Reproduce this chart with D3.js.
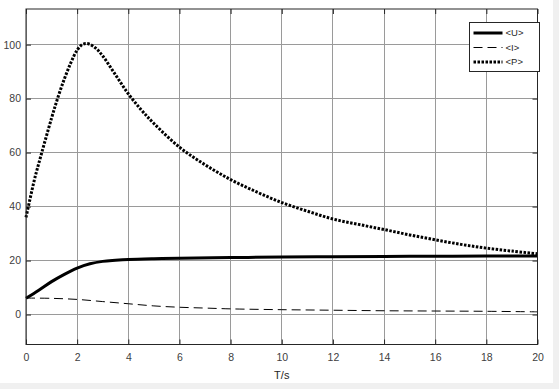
<!DOCTYPE html>
<html>
<head>
<meta charset="utf-8">
<script src="https://cdn.jsdelivr.net/npm/d3@7"></script>
<style>
  body { margin: 0; background: #f0f0f0; }
  #chart { position: absolute; left: 0; top: 0; }
</style>
</head>
<body>
<div id="chart"></div>
<script>
// values
const tU = [0, 0.5, 1, 1.5, 2, 2.5, 3, 3.5, 4, 5, 6, 8, 10, 12, 14, 16, 18, 20];
const valU = [6, 9, 12.2, 14.9, 17.2, 18.8, 19.7, 20.1, 20.4, 20.7, 20.9, 21.1, 21.3, 21.4, 21.5, 21.6, 21.7, 21.7];

const tI = [0, 1, 2, 3, 4, 5, 6, 7, 8, 10, 12, 14, 16, 18, 20];
const valI = [6.1, 6, 5.6, 4.8, 4.0, 3.2, 2.7, 2.4, 2.1, 1.8, 1.6, 1.4, 1.3, 1.2, 1.0];

const tP = [0, 0.33, 0.5, 1, 1.25, 1.5, 1.75, 2, 2.2, 2.35, 2.5, 2.75, 3, 3.5, 4, 4.5, 5, 6, 7, 8, 9, 10, 11, 12, 13, 14, 15, 16, 17, 18, 19, 20];
const valP = [36, 50, 56, 72.8, 80.5, 87.3, 93.2, 98, 100, 100.4, 100.1, 98.5, 95.8, 88.8, 81.8, 75.9, 70.8, 62, 55.5, 50, 45.5, 41.5, 38.3, 35.4, 33.4, 31.5, 29.5, 27.7, 26, 24.6, 23.5, 22.5];

const xTicks = [0, 2, 4, 6, 8, 10, 12, 14, 16, 18, 20];
const yTicks = [0, 20, 40, 60, 80, 100];

const series = [
    { name: "<U>", t: tU, v: valU, width: 3, dash: null },
    { name: "<I>", t: tI, v: valI, width: 1, dash: "9,5" },
    { name: "<P>", t: tP, v: valP, width: 3, dash: "2.5,1.5" }
];

const margin = { top: 9, right: 15.5, bottom: 44.5, left: 26 };
const width = 553 - margin.left - margin.right;
const height = 389 - margin.top - margin.bottom;

const root = d3.select("#chart").append("svg")
    .attr("width", 559)
    .attr("height", 389);

root.append("rect")
    .attr("width", 553)
    .attr("height", 383)
    .attr("fill", "#ffffff");

const svg = root.append("g")
    .attr("transform", `translate(${margin.left},${margin.top})`);

const x = d3.scaleLinear().domain([0, 20]).range([0, width]);
const y = d3.scaleLinear().domain([-11.1, 113.2]).range([height, 0]);

// grid
svg.append("g")
    .selectAll("line")
    .data(xTicks)
    .enter()
    .append("line")
    .attr("x1", d => x(d)).attr("x2", d => x(d))
    .attr("y1", 0).attr("y2", height)
    .attr("stroke", "#9a9a9a")
    .attr("stroke-width", 1)
    .attr("shape-rendering", "crispEdges");

svg.append("g")
    .selectAll("line")
    .data(yTicks)
    .enter()
    .append("line")
    .attr("x1", 0).attr("x2", width)
    .attr("y1", d => y(d)).attr("y2", d => y(d))
    .attr("stroke", "#9a9a9a")
    .attr("stroke-width", 1)
    .attr("shape-rendering", "crispEdges");

// axes with inward ticks
function styleAxis(g) {
    g.select(".domain").remove();
    g.selectAll(".tick line").attr("stroke", "#262626");
    g.selectAll("text")
        .attr("fill", "#404040")
        .style("font-family", "Liberation Sans, Arial, sans-serif")
        .style("font-size", "10.5px");
}

svg.append("g")
    .attr("transform", `translate(0,${height})`)
    .call(d3.axisBottom(x).tickValues(xTicks).tickSize(-5).tickPadding(9))
    .call(styleAxis);

svg.append("g")
    .call(d3.axisTop(x).tickValues(xTicks).tickSize(-5).tickFormat(""))
    .call(styleAxis);

svg.append("g")
    .call(d3.axisLeft(y).tickValues(yTicks).tickSize(-5).tickPadding(5))
    .call(styleAxis);

svg.append("g")
    .attr("transform", `translate(${width},0)`)
    .call(d3.axisRight(y).tickValues(yTicks).tickSize(-5).tickFormat(""))
    .call(styleAxis);

// lines
const line = d3.line()
    .x(d => x(d[0]))
    .y(d => y(d[1]))
    .curve(d3.curveCatmullRom.alpha(0.5));

svg.selectAll(".series")
    .data(series)
    .enter()
    .append("path")
    .attr("class", "series")
    .attr("d", s => line(s.t.map((t, i) => [t, s.v[i]])))
    .attr("fill", "none")
    .attr("stroke", "#000")
    .attr("stroke-width", s => s.width)
    .attr("stroke-dasharray", s => s.dash);

// box
svg.append("rect")
    .attr("width", width)
    .attr("height", height)
    .attr("fill", "none")
    .attr("stroke", "#262626")
    .attr("stroke-width", 1);

// x label
svg.append("text")
    .attr("x", width / 2)
    .attr("y", height + 34)
    .attr("text-anchor", "middle")
    .attr("fill", "#262626")
    .style("font-family", "Liberation Sans, Arial, sans-serif")
    .style("font-size", "11px")
    .text("T/s");

// legend
const legend = root.append("g").attr("transform", "translate(469.5,22.5)");
legend.append("rect")
    .attr("width", 70)
    .attr("height", 49)
    .attr("fill", "#fff")
    .attr("stroke", "#262626")
    .attr("stroke-width", 1);

const item = legend.selectAll(".item")
    .data(series)
    .enter()
    .append("g")
    .attr("transform", (d, i) => `translate(0,${10.5 + i * 14.5})`);

item.append("line")
    .attr("x1", 4).attr("x2", 33)
    .attr("stroke", "#000")
    .attr("stroke-width", d => d.width)
    .attr("stroke-dasharray", d => d.dash);

item.append("text")
    .attr("x", 36)
    .attr("dy", "0.35em")
    .attr("fill", "#262626")
    .style("font-family", "Liberation Sans, Arial, sans-serif")
    .style("font-size", "9.5px")
    .text(d => d.name);
</script>
</body>
</html>
